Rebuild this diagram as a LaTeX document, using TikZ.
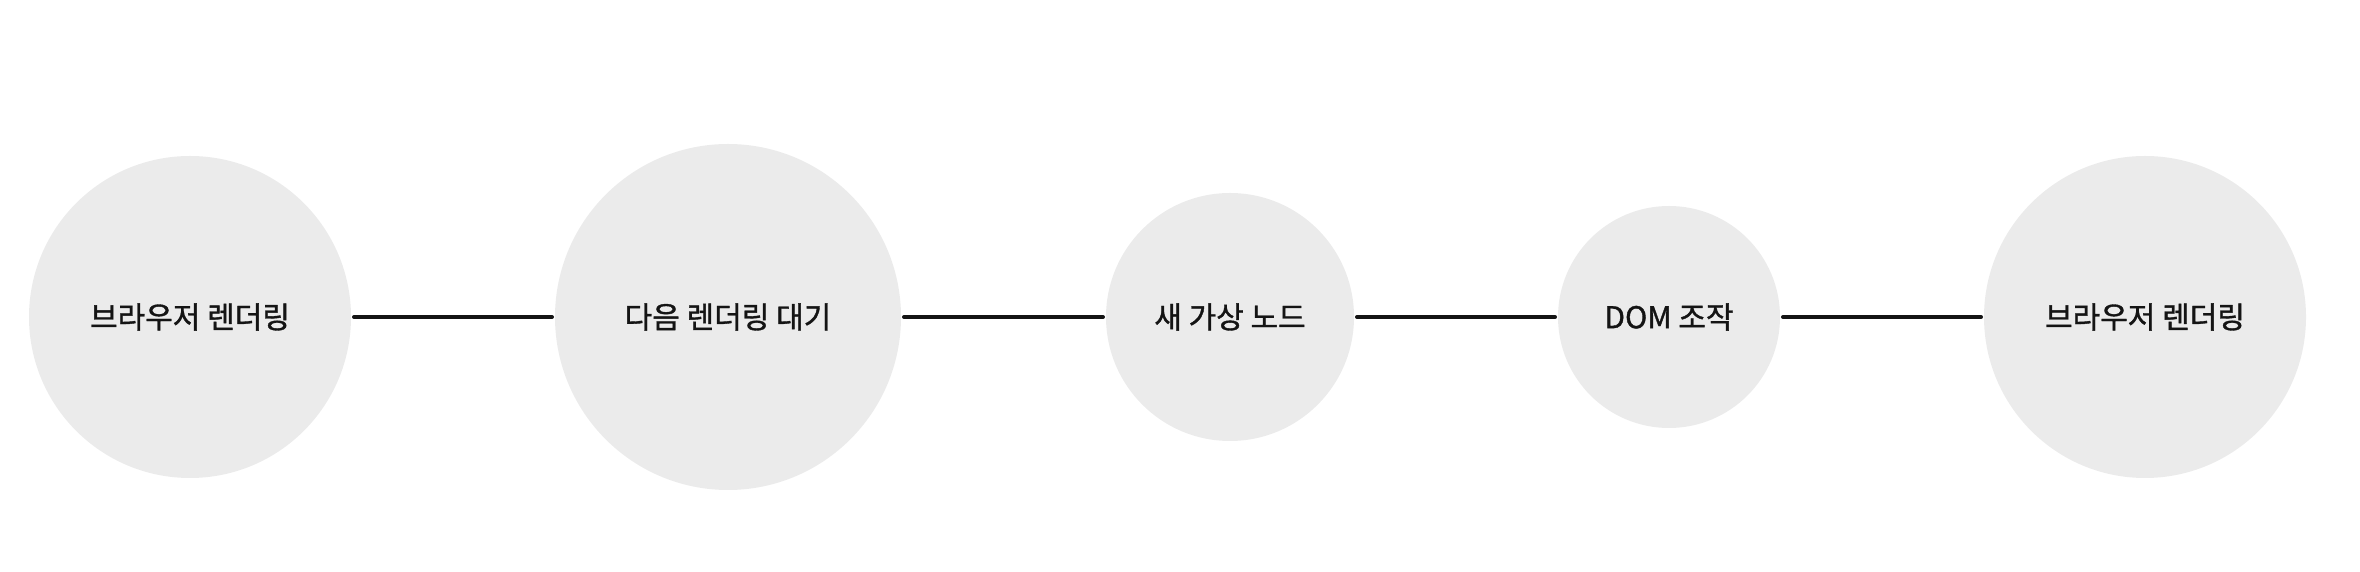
\documentclass[tikz,border=0pt]{standalone}
\usepackage{fontspec}
\setmainfont{Noto Sans CJK KR}[FakeBold=1.2]
\definecolor{bubblegray}{HTML}{EBEBEB}
\definecolor{inkblack}{HTML}{141414}
\tikzset{
  bubble/.style={circle, fill=bubblegray, inner sep=0pt, outer sep=1.5pt,
    text=inkblack, font=\fontsize{15pt}{17pt}\selectfont},
  link/.style={draw=inkblack, line width=2pt, line cap=round}
}
\begin{document}
\begin{tikzpicture}[x=0.5pt, y=0.5pt]
\useasboundingbox (0,0) rectangle (2360,572);
% the five stages, left to right
\node[bubble, minimum size=161pt] (paint1) at (190,255) {브라우저 렌더링};
\node[bubble, minimum size=173pt] (wait)   at (728,255) {다음 렌더링 대기};
\node[bubble, minimum size=124pt] (vnode)  at (1230,255) {새 가상 노드};
\node[bubble, minimum size=111pt] (dom)    at (1669,255) {DOM 조작};
\node[bubble, minimum size=161pt] (paint2) at (2145,255) {브라우저 렌더링};
% connectors
\foreach \a/\b in {paint1/wait, wait/vnode, vnode/dom, dom/paint2} {
 \draw[link] (\a) -- (\b);
}
\end{tikzpicture}
\end{document}
